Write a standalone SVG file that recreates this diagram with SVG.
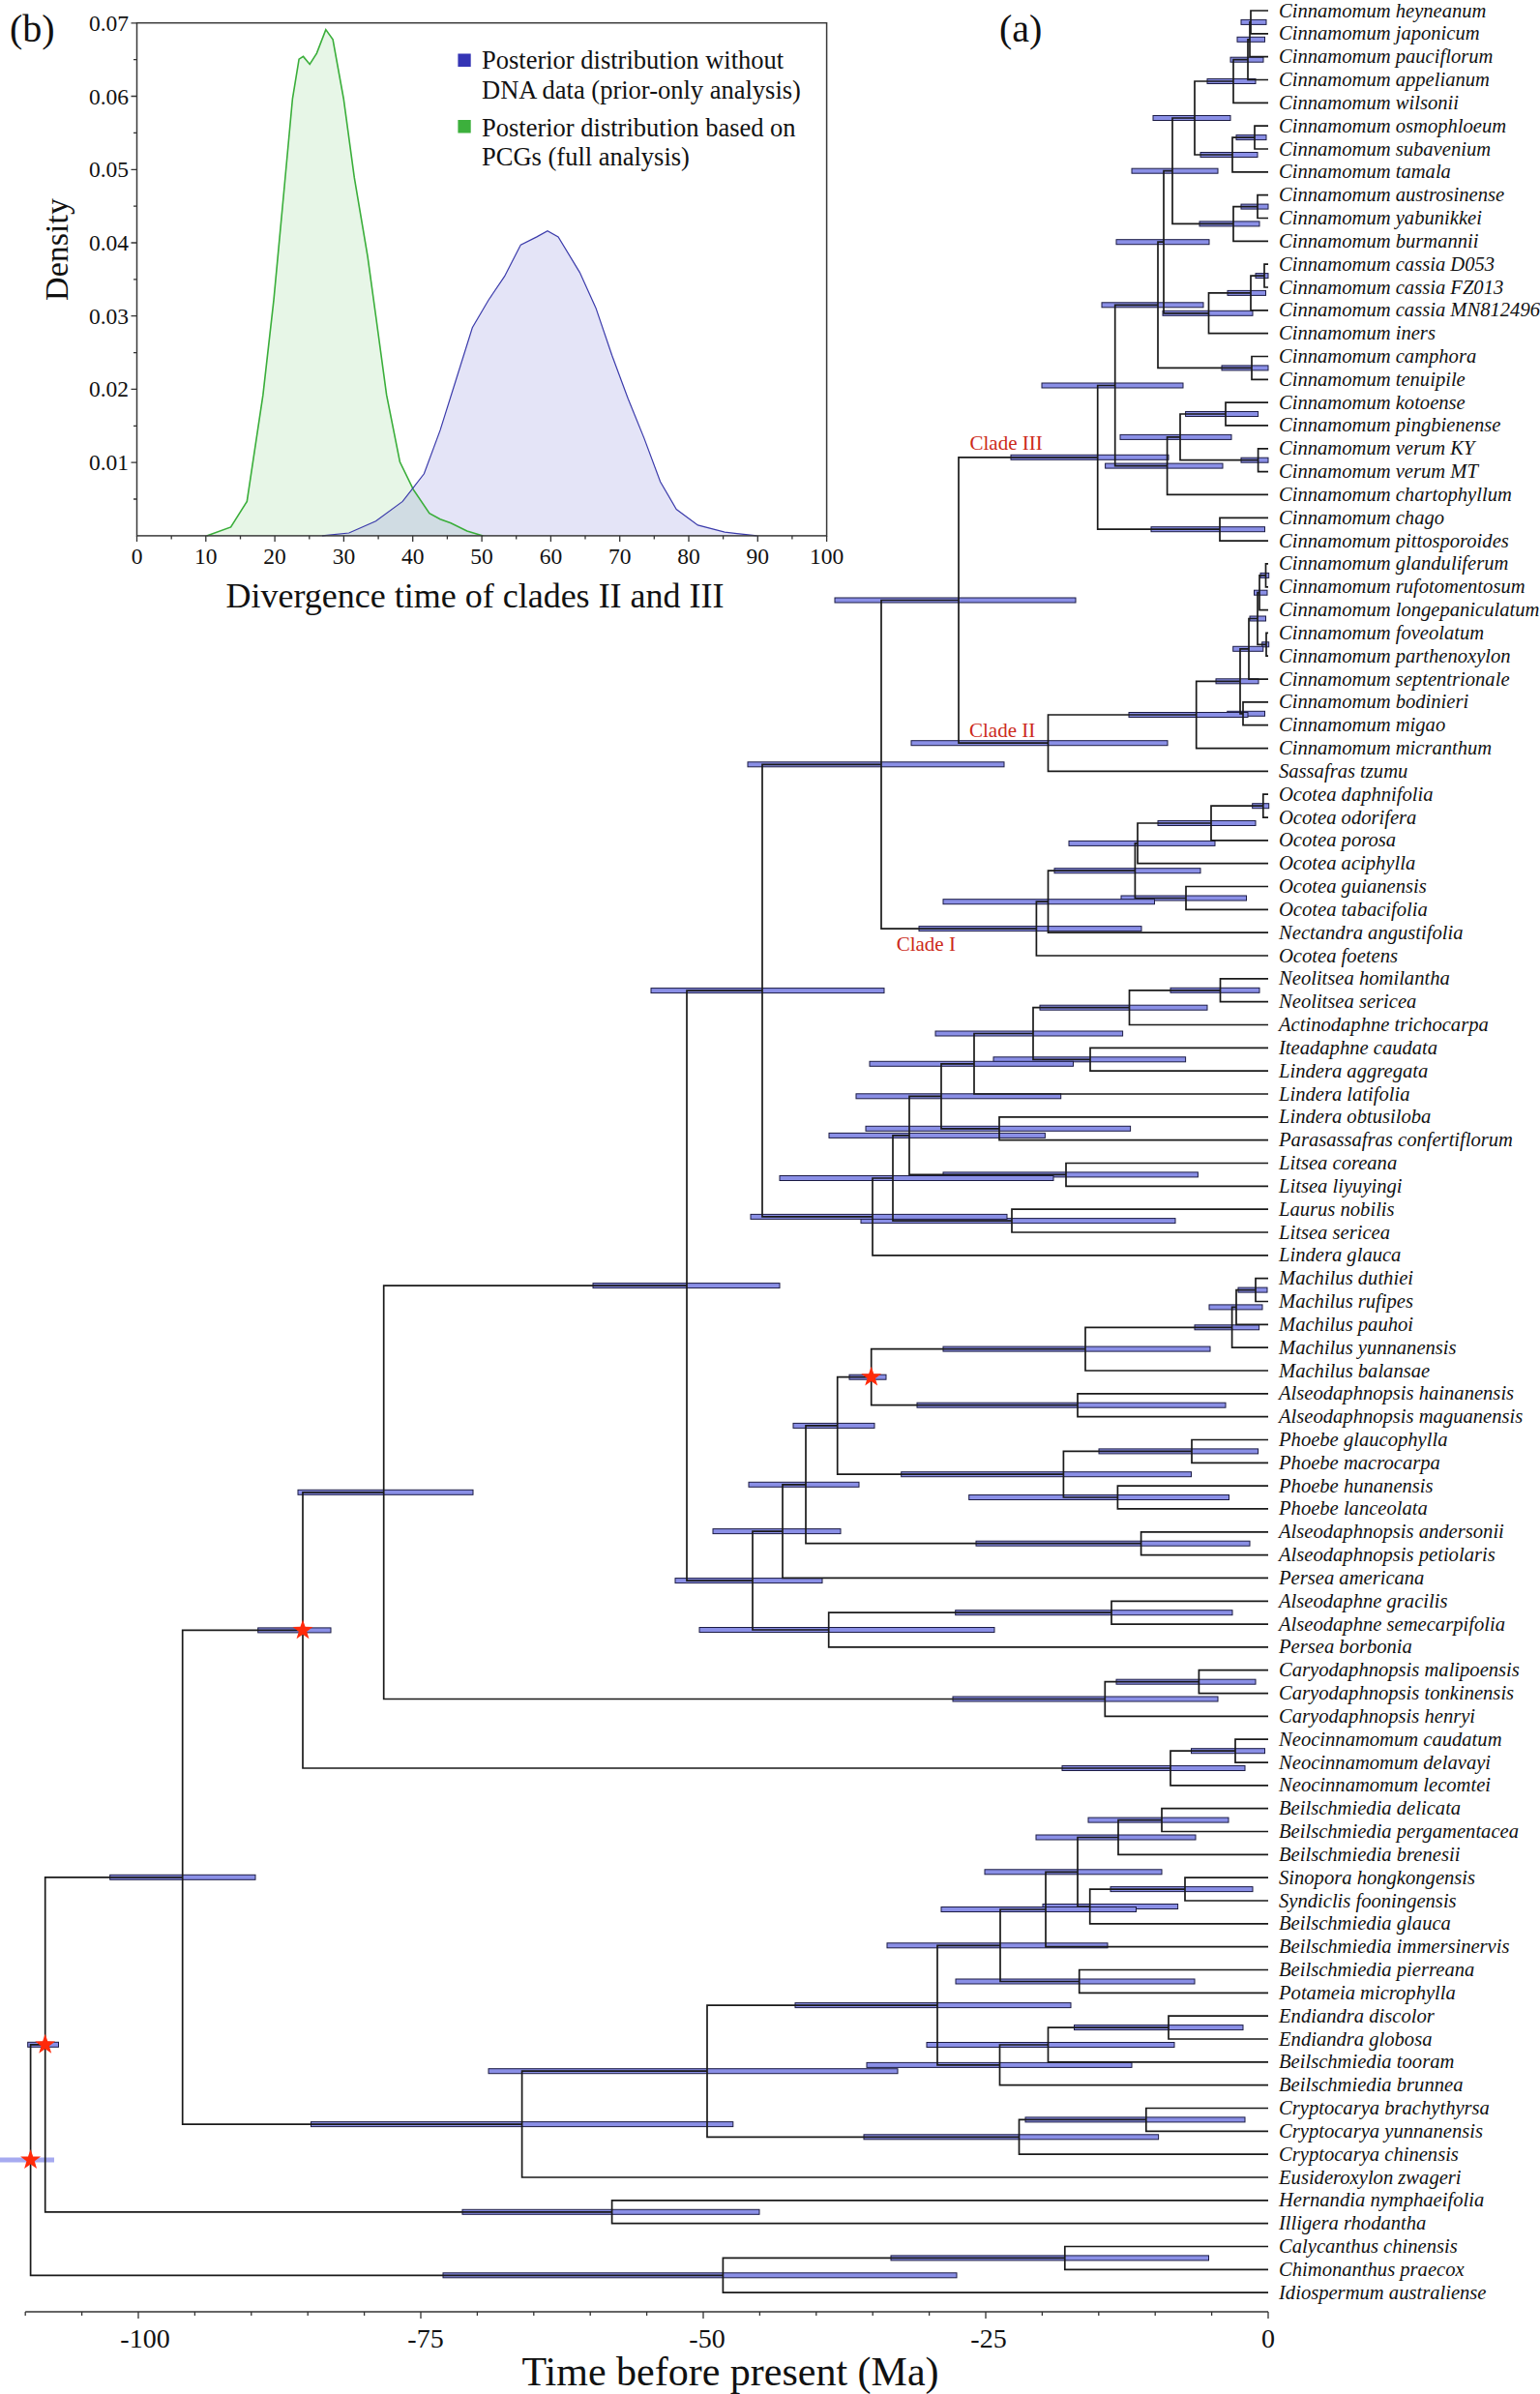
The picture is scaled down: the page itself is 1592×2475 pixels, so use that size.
<svg xmlns="http://www.w3.org/2000/svg" width="1592" height="2475" viewBox="0 0 1592 2475">
<style>
.br{fill:none;stroke:#1a1a1a;stroke-width:1.7}
.b{fill:#8a8fe6;stroke:#1c1c45;stroke-width:1}
.bl{fill:#a6aaf0;stroke:none}
.tips text{font-family:"Liberation Serif","Times New Roman",serif;font-style:italic;font-size:20.6px;fill:#111}
.cl{font-family:"Liberation Serif","Times New Roman",serif;font-size:21px;fill:#cc2a1a}
.ax{font-family:"Liberation Serif","Times New Roman",serif;fill:#111}
.tk{fill:none;stroke:#333;stroke-width:1.3}
.star{fill:#ff2a0a}
</style>
<defs>
<path id="star" d="M0,-11 L2.59,-3.56 L10.46,-3.4 L4.18,1.36 L6.47,8.9 L0,4.4 L-6.47,8.9 L-4.18,1.36 L-10.46,-3.4 L-2.59,-3.56 Z"/>
</defs>
<rect width="1592" height="2475" fill="#fff"/>

<g id="inset">
<path d="M213.6,553.9 L238.6,544.9 L255.3,518.4 L271.9,408.2 L283,310.2 L294.1,191.8 L302.4,102 L309.1,61.2 L313.5,58.4 L320.2,66.5 L327.4,55.1 L336.8,30.6 L344.1,40.8 L355.2,102 L366.3,183.7 L380.1,265.3 L388.5,326.5 L399.6,408.2 L413.4,477.6 L427.3,506.1 L443.9,530.6 L455,536.7 L466.1,540.8 L482.8,549 L499.4,553.9 L521,553.9 Z" fill="#5cc05c" fill-opacity="0.15" stroke="none"/>
<path d="M333,553.9 L360.7,551 L388.5,538.8 L416.2,518.4 L438.4,489.8 L455,444.9 L471.7,391.8 L488.3,338.8 L505,310.2 L521.6,285.7 L538.3,253.1 L554.9,244.9 L566,238.8 L577.1,244.9 L599.3,281.6 L616,318.4 L632.6,367.3 L649.3,412.2 L665.9,453.1 L682.6,498 L699.2,526.5 L721.4,542.9 L749.2,550.2 L782.5,553.9 Z" fill="#6060d0" fill-opacity="0.17" stroke="none"/>
<path d="M213.6,553.9 L238.6,544.9 L255.3,518.4 L271.9,408.2 L283,310.2 L294.1,191.8 L302.4,102 L309.1,61.2 L313.5,58.4 L320.2,66.5 L327.4,55.1 L336.8,30.6 L344.1,40.8 L355.2,102 L366.3,183.7 L380.1,265.3 L388.5,326.5 L399.6,408.2 L413.4,477.6 L427.3,506.1 L443.9,530.6 L455,536.7 L466.1,540.8 L482.8,549 L499.4,553.9" fill="none" stroke="#3aae3a" stroke-width="1.6"/>
<path d="M333,553.9 L360.7,551 L388.5,538.8 L416.2,518.4 L438.4,489.8 L455,444.9 L471.7,391.8 L488.3,338.8 L505,310.2 L521.6,285.7 L538.3,253.1 L554.9,244.9 L566,238.8 L577.1,244.9 L599.3,281.6 L616,318.4 L632.6,367.3 L649.3,412.2 L665.9,453.1 L682.6,498 L699.2,526.5 L721.4,542.9 L749.2,550.2 L782.5,553.9" fill="none" stroke="#3b3bab" stroke-width="1.2"/>
<rect x="141.5" y="23.7" width="713.1" height="530.2" fill="none" stroke="#3a3a3a" stroke-width="1.5"/>
<path class="tk" d="M141.5 553.9v6M177.2 553.9v3.5M212.8 553.9v6M248.5 553.9v3.5M284.1 553.9v6M319.8 553.9v3.5M355.4 553.9v6M391.1 553.9v3.5M426.7 553.9v6M462.4 553.9v3.5M498.1 553.9v6M533.7 553.9v3.5M569.4 553.9v6M605 553.9v3.5M640.7 553.9v6M676.3 553.9v3.5M712 553.9v6M747.6 553.9v3.5M783.3 553.9v6M818.9 553.9v3.5M854.6 553.9v6"/>
<path class="tk" d="M141.5 516h-3.5M141.5 478.2h-6M141.5 440.3h-3.5M141.5 402.4h-6M141.5 364.6h-3.5M141.5 326.7h-6M141.5 288.8h-3.5M141.5 251h-6M141.5 213.1h-3.5M141.5 175.3h-6M141.5 137.4h-3.5M141.5 99.5h-6M141.5 61.7h-3.5M141.5 23.8h-6"/>
<g class="ax" font-size="23.5" text-anchor="middle">
<text x="141.5" y="583">0</text><text x="212.8" y="583">10</text><text x="284.1" y="583">20</text><text x="355.4" y="583">30</text><text x="426.7" y="583">40</text><text x="498.1" y="583">50</text><text x="569.4" y="583">60</text><text x="640.7" y="583">70</text><text x="712" y="583">80</text><text x="783.3" y="583">90</text><text x="854.6" y="583">100</text>
</g>
<g class="ax" font-size="23.5" text-anchor="end">
<text x="133" y="486.2">0.01</text><text x="133" y="410.4">0.02</text><text x="133" y="334.7">0.03</text><text x="133" y="259">0.04</text><text x="133" y="183.3">0.05</text><text x="133" y="107.5">0.06</text><text x="133" y="31.8">0.07</text>
</g>
<text class="ax" font-size="34" text-anchor="middle" transform="translate(70,258) rotate(-90)">Density</text>
<text class="ax" font-size="36" x="491" y="628" text-anchor="middle">Divergence time of clades II and III</text>
<rect x="473.4" y="55.5" width="13.3" height="13.5" fill="#3535b5"/>
<rect x="473.4" y="124" width="13.3" height="13.5" fill="#3cb03c"/>
<g class="ax" font-size="26.5">
<text x="498" y="71.4">Posterior distribution without</text>
<text x="498" y="102">DNA data (prior-only analysis)</text>
<text x="498" y="140.8">Posterior distribution based on</text>
<text x="498" y="170.6">PCGs (full analysis)</text>
</g>
<text class="ax" font-size="40" x="10" y="43">(b)</text>
</g>

<text class="ax" font-size="40" x="1033" y="43">(a)</text>

<g id="hpd-bars">
<rect class="b" x="1283" y="20.4" width="26" height="5"/>
<rect class="b" x="1279" y="38.3" width="28.5" height="5"/>
<rect class="b" x="1272" y="59.2" width="34" height="5"/>
<rect class="b" x="1248" y="81.5" width="50" height="5"/>
<rect class="b" x="1278" y="139.6" width="31" height="5"/>
<rect class="b" x="1241" y="157.5" width="59" height="5"/>
<rect class="b" x="1192" y="119.5" width="80" height="5"/>
<rect class="b" x="1283" y="211.1" width="28" height="5"/>
<rect class="b" x="1240" y="228.9" width="62" height="5"/>
<rect class="b" x="1170" y="174.2" width="89" height="5"/>
<rect class="b" x="1298" y="282.6" width="13" height="5"/>
<rect class="b" x="1269" y="300.4" width="39.5" height="5"/>
<rect class="b" x="1202" y="321.3" width="93" height="5"/>
<rect class="b" x="1154" y="247.7" width="96" height="5"/>
<rect class="b" x="1263" y="377.9" width="48" height="5"/>
<rect class="b" x="1139" y="312.8" width="105" height="5"/>
<rect class="b" x="1225.6" y="425.5" width="75" height="5"/>
<rect class="b" x="1283" y="473.2" width="28" height="5"/>
<rect class="b" x="1158" y="449.4" width="115" height="5"/>
<rect class="b" x="1142.6" y="479.1" width="121.4" height="5"/>
<rect class="b" x="1077" y="396" width="146" height="5"/>
<rect class="b" x="1190" y="544.7" width="117.5" height="5"/>
<rect class="b" x="1045" y="470.3" width="163" height="5"/>
<rect class="b" x="1303" y="592.4" width="8.7" height="5"/>
<rect class="b" x="1296.5" y="610.2" width="13.5" height="5"/>
<rect class="b" x="1304.7" y="663.8" width="7" height="5"/>
<rect class="b" x="1292" y="637" width="16.5" height="5"/>
<rect class="b" x="1274.7" y="668.3" width="31.1" height="5"/>
<rect class="b" x="1268.8" y="735.3" width="38.7" height="5"/>
<rect class="b" x="1257" y="701.8" width="44" height="5"/>
<rect class="b" x="1167" y="736.5" width="123" height="5"/>
<rect class="b" x="942" y="765.7" width="265" height="5"/>
<rect class="b" x="863" y="618" width="249" height="5"/>
<rect class="b" x="1294.7" y="830.7" width="17" height="5"/>
<rect class="b" x="1197" y="848.5" width="101" height="5"/>
<rect class="b" x="1105" y="869.4" width="151" height="5"/>
<rect class="b" x="1159" y="926" width="129.5" height="5"/>
<rect class="b" x="1090" y="897.7" width="151" height="5"/>
<rect class="b" x="975" y="929.7" width="218.5" height="5"/>
<rect class="b" x="950" y="957.6" width="230" height="5"/>
<rect class="b" x="773" y="787.8" width="265" height="5"/>
<rect class="b" x="1210" y="1021.3" width="92" height="5"/>
<rect class="b" x="1075" y="1039.2" width="173" height="5"/>
<rect class="b" x="1027" y="1092.8" width="198.6" height="5"/>
<rect class="b" x="967" y="1066" width="193.6" height="5"/>
<rect class="b" x="899" y="1097.3" width="210.5" height="5"/>
<rect class="b" x="895" y="1164.3" width="273.6" height="5"/>
<rect class="b" x="885" y="1130.8" width="211.7" height="5"/>
<rect class="b" x="975" y="1211.9" width="263.4" height="5"/>
<rect class="b" x="857" y="1171.4" width="223.4" height="5"/>
<rect class="b" x="890" y="1259.6" width="325" height="5"/>
<rect class="b" x="806" y="1215.5" width="283" height="5"/>
<rect class="b" x="776" y="1255.4" width="265" height="5"/>
<rect class="b" x="673" y="1021.6" width="241" height="5"/>
<rect class="b" x="1280" y="1331.1" width="30" height="5"/>
<rect class="b" x="1250" y="1348.9" width="55" height="5"/>
<rect class="b" x="1235" y="1369.8" width="66.6" height="5"/>
<rect class="b" x="975" y="1392.1" width="276" height="5"/>
<rect class="b" x="948" y="1450.2" width="319" height="5"/>
<rect class="b" x="878" y="1421.2" width="38" height="5"/>
<rect class="b" x="1136" y="1497.9" width="164.6" height="5"/>
<rect class="b" x="1001.7" y="1545.5" width="268.8" height="5"/>
<rect class="b" x="931.7" y="1521.7" width="299.8" height="5"/>
<rect class="b" x="820" y="1471.4" width="84" height="5"/>
<rect class="b" x="1009" y="1593.2" width="283" height="5"/>
<rect class="b" x="774" y="1532.3" width="114" height="5"/>
<rect class="b" x="737" y="1580.6" width="132" height="5"/>
<rect class="b" x="987.7" y="1664.7" width="286.3" height="5"/>
<rect class="b" x="723" y="1682.5" width="305" height="5"/>
<rect class="b" x="698" y="1631.6" width="152" height="5"/>
<rect class="b" x="613" y="1326.6" width="193" height="5"/>
<rect class="b" x="1154" y="1736.2" width="144" height="5"/>
<rect class="b" x="985" y="1754" width="274" height="5"/>
<rect class="b" x="308" y="1540.3" width="181" height="5"/>
<rect class="b" x="1231.5" y="1807.7" width="76" height="5"/>
<rect class="b" x="1098" y="1825.5" width="189" height="5"/>
<rect class="b" x="266.7" y="1682.9" width="75.3" height="5"/>
<rect class="b" x="1125" y="1879.1" width="145" height="5"/>
<rect class="b" x="1071" y="1897" width="165" height="5"/>
<rect class="b" x="1148" y="1950.6" width="147" height="5"/>
<rect class="b" x="1078" y="1968.5" width="139.6" height="5"/>
<rect class="b" x="1018" y="1932.8" width="183" height="5"/>
<rect class="b" x="973" y="1971.5" width="201.5" height="5"/>
<rect class="b" x="988" y="2046" width="247" height="5"/>
<rect class="b" x="917" y="2008.8" width="228" height="5"/>
<rect class="b" x="1110.5" y="2093.6" width="174.5" height="5"/>
<rect class="b" x="958" y="2111.5" width="256" height="5"/>
<rect class="b" x="896" y="2132.4" width="274" height="5"/>
<rect class="b" x="822" y="2070.6" width="285" height="5"/>
<rect class="b" x="1060" y="2188.9" width="227" height="5"/>
<rect class="b" x="893" y="2206.8" width="304.6" height="5"/>
<rect class="b" x="505" y="2138.7" width="423" height="5"/>
<rect class="b" x="321.5" y="2193.6" width="436.3" height="5"/>
<rect class="b" x="113.7" y="1938.3" width="150.3" height="5"/>
<rect class="b" x="478" y="2284.3" width="307" height="5"/>
<rect class="b" x="28.7" y="2111.3" width="31.8" height="5"/>
<rect class="b" x="921" y="2331.9" width="328.5" height="5"/>
<rect class="b" x="458" y="2349.8" width="531" height="5"/>
<rect class="bl" x="0" y="2230.5" width="56" height="5"/>
</g>

<g id="connectors" class="br">
<path d="M1311 11H1293V34.8H1311"/>
<path d="M1293 22.9H1292V58.7H1311"/>
<path d="M1292 40.8H1290V82.5H1311"/>
<path d="M1290 61.7H1275V106.3H1311"/>
<path d="M1311 130.2H1297V154H1311"/>
<path d="M1297 142.1H1274V177.8H1311"/>
<path d="M1275 84H1235V160H1274"/>
<path d="M1311 201.6H1300V225.5H1311"/>
<path d="M1300 213.6H1275V249.3H1311"/>
<path d="M1235 122H1212V231.4H1275"/>
<path d="M1311 273.1H1307V297H1311"/>
<path d="M1307 285.1H1293V320.8H1311"/>
<path d="M1293 302.9H1249.5V344.6H1311"/>
<path d="M1212 176.7H1203V323.8H1249.5"/>
<path d="M1311 368.5H1294V392.3H1311"/>
<path d="M1203 250.2H1197V380.4H1294"/>
<path d="M1311 416.1H1267V439.9H1311"/>
<path d="M1311 463.8H1300.6V487.6H1311"/>
<path d="M1267 428H1220V475.7H1300.6"/>
<path d="M1220 451.9H1206.6V511.4H1311"/>
<path d="M1197 315.3H1152.7V481.6H1206.6"/>
<path d="M1311 535.3H1261V559.1H1311"/>
<path d="M1152.7 398.5H1134.7V547.2H1261"/>
<path d="M1311 582.9H1308.5V606.8H1311"/>
<path d="M1308.5 594.9H1302V630.6H1311"/>
<path d="M1311 654.4H1309V678.2H1311"/>
<path d="M1302 612.7H1300V666.3H1309"/>
<path d="M1300 639.5H1291V702.1H1311"/>
<path d="M1311 725.9H1285V749.7H1311"/>
<path d="M1291 670.8H1282V737.8H1285"/>
<path d="M1282 704.3H1236.7V773.6H1311"/>
<path d="M1236.7 739H1083.5V797.4H1311"/>
<path d="M1134.7 472.8H991V768.2H1083.5"/>
<path d="M1311 821.2H1305.8V845.1H1311"/>
<path d="M1305.8 833.2H1252V868.9H1311"/>
<path d="M1252 851H1176V892.7H1311"/>
<path d="M1311 916.5H1226V940.4H1311"/>
<path d="M1176 871.9H1173.4V928.5H1226"/>
<path d="M1173.4 900.2H1083.5V964.2H1311"/>
<path d="M1083.5 932.2H1071.4V988H1311"/>
<path d="M991 620.5H911V960.1H1071.4"/>
<path d="M1311 1011.9H1261.5V1035.7H1311"/>
<path d="M1261.5 1023.8H1167.5V1059.5H1311"/>
<path d="M1311 1083.4H1127V1107.2H1311"/>
<path d="M1167.5 1041.7H1068V1095.3H1127"/>
<path d="M1068 1068.5H1007V1131H1311"/>
<path d="M1311 1154.8H1033V1178.7H1311"/>
<path d="M1007 1099.8H973V1166.8H1033"/>
<path d="M1311 1202.5H1102V1226.3H1311"/>
<path d="M973 1133.3H940V1214.4H1102"/>
<path d="M1311 1250.2H1046V1274H1311"/>
<path d="M940 1173.9H923V1262.1H1046"/>
<path d="M923 1218H902V1297.8H1311"/>
<path d="M911 790.3H788V1257.9H902"/>
<path d="M1311 1321.6H1298V1345.5H1311"/>
<path d="M1298 1333.6H1278V1369.3H1311"/>
<path d="M1278 1351.4H1273.6V1393.1H1311"/>
<path d="M1273.6 1372.3H1122V1417H1311"/>
<path d="M1311 1440.8H1114V1464.6H1311"/>
<path d="M1122 1394.6H900.7V1452.7H1114"/>
<path d="M1311 1488.5H1232V1512.3H1311"/>
<path d="M1311 1536.1H1155.4V1559.9H1311"/>
<path d="M1232 1500.4H1099.4V1548H1155.4"/>
<path d="M900.7 1423.7H865.7V1524.2H1099.4"/>
<path d="M1311 1583.8H1179.6V1607.6H1311"/>
<path d="M865.7 1473.9H833V1595.7H1179.6"/>
<path d="M833 1534.8H809V1631.4H1311"/>
<path d="M1311 1655.3H1149V1679.1H1311"/>
<path d="M1149 1667.2H856.7V1702.9H1311"/>
<path d="M809 1583.1H778V1685H856.7"/>
<path d="M788 1024.1H710V1634.1H778"/>
<path d="M1311 1726.7H1239.4V1750.6H1311"/>
<path d="M1239.4 1738.7H1142.3V1774.4H1311"/>
<path d="M710 1329.1H396.7V1756.5H1142.3"/>
<path d="M1311 1798.2H1277V1822.1H1311"/>
<path d="M1277 1810.2H1210V1845.9H1311"/>
<path d="M396.7 1542.8H313V1828H1210"/>
<path d="M1311 1869.7H1201V1893.5H1311"/>
<path d="M1201 1881.6H1156V1917.4H1311"/>
<path d="M1311 1941.2H1225V1965H1311"/>
<path d="M1225 1953.1H1126.7V1988.9H1311"/>
<path d="M1156 1899.5H1114V1971H1126.7"/>
<path d="M1114 1935.3H1081V2012.7H1311"/>
<path d="M1311 2036.5H1115.7V2060.4H1311"/>
<path d="M1081 1974H1034V2048.5H1115.7"/>
<path d="M1311 2084.2H1208V2108H1311"/>
<path d="M1208 2096.1H1083.5V2131.8H1311"/>
<path d="M1083.5 2114H1033.5V2155.7H1311"/>
<path d="M1034 2011.3H969V2134.9H1033.5"/>
<path d="M1311 2179.5H1184.8V2203.3H1311"/>
<path d="M1184.8 2191.4H1053.5V2227.2H1311"/>
<path d="M969 2073.1H731V2209.3H1053.5"/>
<path d="M731 2141.2H539.6V2251H1311"/>
<path d="M313 1685.4H188.7V2196.1H539.6"/>
<path d="M1311 2274.8H632.6V2298.7H1311"/>
<path d="M188.7 1940.8H46.7V2286.8H632.6"/>
<path d="M1311 2322.5H1100.8V2346.3H1311"/>
<path d="M1100.8 2334.4H747.4V2370.1H1311"/>
<path d="M46.7 2113.8H31.6V2352.3H747.4"/>
</g>

<g id="calibrations">
<use href="#star" class="star" x="900.7" y="1423.7"/>
<use href="#star" class="star" x="313" y="1685.4"/>
<use href="#star" class="star" x="46.7" y="2113.8"/>
<use href="#star" class="star" x="31.6" y="2233"/>
</g>

<g id="clade-labels">
<text class="cl" x="1002.5" y="464.5">Clade III</text>
<text class="cl" x="1002" y="761.5">Clade II</text>
<text class="cl" x="926.7" y="982.5">Clade I</text>
</g>

<g id="time-axis">
<path class="tk" d="M26.2 2390H1311"/>
<path class="tk" d="M26.2 2390v4M84.6 2390v4M143 2390v7M201.4 2390v4M259.8 2390v4M318.2 2390v4M376.6 2390v4M435 2390v7M493.4 2390v4M551.8 2390v4M610.2 2390v4M668.6 2390v4M727 2390v7M785.4 2390v4M843.8 2390v4M902.2 2390v4M960.6 2390v4M1019 2390v7M1077.4 2390v4M1135.8 2390v4M1194.2 2390v4M1252.6 2390v4M1311 2390v7"/>
<g class="ax" font-size="28" text-anchor="middle">
<text x="150" y="2427">-100</text><text x="440" y="2427">-75</text><text x="731" y="2427">-50</text><text x="1022" y="2427">-25</text><text x="1311" y="2427">0</text>
</g>
<text class="ax" font-size="42" x="755" y="2466" text-anchor="middle">Time before present (Ma)</text>
</g>

<g class="tips">
<g id="tip1"><text x="1322" y="17.5">Cinnamomum heyneanum</text></g>
<g id="tip2"><text x="1322" y="41.3">Cinnamomum japonicum</text></g>
<g id="tip3"><text x="1322" y="65.2">Cinnamomum pauciflorum</text></g>
<g id="tip4"><text x="1322" y="89">Cinnamomum appelianum</text></g>
<g id="tip5"><text x="1322" y="112.8">Cinnamomum wilsonii</text></g>
<g id="tip6"><text x="1322" y="136.7">Cinnamomum osmophloeum</text></g>
<g id="tip7"><text x="1322" y="160.5">Cinnamomum subavenium</text></g>
<g id="tip8"><text x="1322" y="184.3">Cinnamomum tamala</text></g>
<g id="tip9"><text x="1322" y="208.1">Cinnamomum austrosinense</text></g>
<g id="tip10"><text x="1322" y="232">Cinnamomum yabunikkei</text></g>
<g id="tip11"><text x="1322" y="255.8">Cinnamomum burmannii</text></g>
<g id="tip12"><text x="1322" y="279.6">Cinnamomum cassia D053</text></g>
<g id="tip13"><text x="1322" y="303.5">Cinnamomum cassia FZ013</text></g>
<g id="tip14"><text x="1322" y="327.3">Cinnamomum cassia MN812496</text></g>
<g id="tip15"><text x="1322" y="351.1">Cinnamomum iners</text></g>
<g id="tip16"><text x="1322" y="375">Cinnamomum camphora</text></g>
<g id="tip17"><text x="1322" y="398.8">Cinnamomum tenuipile</text></g>
<g id="tip18"><text x="1322" y="422.6">Cinnamomum kotoense</text></g>
<g id="tip19"><text x="1322" y="446.4">Cinnamomum pingbienense</text></g>
<g id="tip20"><text x="1322" y="470.3">Cinnamomum verum KY</text></g>
<g id="tip21"><text x="1322" y="494.1">Cinnamomum verum MT</text></g>
<g id="tip22"><text x="1322" y="517.9">Cinnamomum chartophyllum</text></g>
<g id="tip23"><text x="1322" y="541.8">Cinnamomum chago</text></g>
<g id="tip24"><text x="1322" y="565.6">Cinnamomum pittosporoides</text></g>
<g id="tip25"><text x="1322" y="589.4">Cinnamomum glanduliferum</text></g>
<g id="tip26"><text x="1322" y="613.3">Cinnamomum rufotomentosum</text></g>
<g id="tip27"><text x="1322" y="637.1">Cinnamomum longepaniculatum</text></g>
<g id="tip28"><text x="1322" y="660.9">Cinnamomum foveolatum</text></g>
<g id="tip29"><text x="1322" y="684.7">Cinnamomum parthenoxylon</text></g>
<g id="tip30"><text x="1322" y="708.6">Cinnamomum septentrionale</text></g>
<g id="tip31"><text x="1322" y="732.4">Cinnamomum bodinieri</text></g>
<g id="tip32"><text x="1322" y="756.2">Cinnamomum migao</text></g>
<g id="tip33"><text x="1322" y="780.1">Cinnamomum micranthum</text></g>
<g id="tip34"><text x="1322" y="803.9">Sassafras tzumu</text></g>
<g id="tip35"><text x="1322" y="827.7">Ocotea daphnifolia</text></g>
<g id="tip36"><text x="1322" y="851.6">Ocotea odorifera</text></g>
<g id="tip37"><text x="1322" y="875.4">Ocotea porosa</text></g>
<g id="tip38"><text x="1322" y="899.2">Ocotea aciphylla</text></g>
<g id="tip39"><text x="1322" y="923">Ocotea guianensis</text></g>
<g id="tip40"><text x="1322" y="946.9">Ocotea tabacifolia</text></g>
<g id="tip41"><text x="1322" y="970.7">Nectandra angustifolia</text></g>
<g id="tip42"><text x="1322" y="994.5">Ocotea foetens</text></g>
<g id="tip43"><text x="1322" y="1018.4">Neolitsea homilantha</text></g>
<g id="tip44"><text x="1322" y="1042.2">Neolitsea sericea</text></g>
<g id="tip45"><text x="1322" y="1066">Actinodaphne trichocarpa</text></g>
<g id="tip46"><text x="1322" y="1089.9">Iteadaphne caudata</text></g>
<g id="tip47"><text x="1322" y="1113.7">Lindera aggregata</text></g>
<g id="tip48"><text x="1322" y="1137.5">Lindera latifolia</text></g>
<g id="tip49"><text x="1322" y="1161.3">Lindera obtusiloba</text></g>
<g id="tip50"><text x="1322" y="1185.2">Parasassafras confertiflorum</text></g>
<g id="tip51"><text x="1322" y="1209">Litsea coreana</text></g>
<g id="tip52"><text x="1322" y="1232.8">Litsea liyuyingi</text></g>
<g id="tip53"><text x="1322" y="1256.7">Laurus nobilis</text></g>
<g id="tip54"><text x="1322" y="1280.5">Litsea sericea</text></g>
<g id="tip55"><text x="1322" y="1304.3">Lindera glauca</text></g>
<g id="tip56"><text x="1322" y="1328.1">Machilus duthiei</text></g>
<g id="tip57"><text x="1322" y="1352">Machilus rufipes</text></g>
<g id="tip58"><text x="1322" y="1375.8">Machilus pauhoi</text></g>
<g id="tip59"><text x="1322" y="1399.6">Machilus yunnanensis</text></g>
<g id="tip60"><text x="1322" y="1423.5">Machilus balansae</text></g>
<g id="tip61"><text x="1322" y="1447.3">Alseodaphnopsis hainanensis</text></g>
<g id="tip62"><text x="1322" y="1471.1">Alseodaphnopsis maguanensis</text></g>
<g id="tip63"><text x="1322" y="1495">Phoebe glaucophylla</text></g>
<g id="tip64"><text x="1322" y="1518.8">Phoebe macrocarpa</text></g>
<g id="tip65"><text x="1322" y="1542.6">Phoebe hunanensis</text></g>
<g id="tip66"><text x="1322" y="1566.4">Phoebe lanceolata</text></g>
<g id="tip67"><text x="1322" y="1590.3">Alseodaphnopsis andersonii</text></g>
<g id="tip68"><text x="1322" y="1614.1">Alseodaphnopsis petiolaris</text></g>
<g id="tip69"><text x="1322" y="1637.9">Persea americana</text></g>
<g id="tip70"><text x="1322" y="1661.8">Alseodaphne gracilis</text></g>
<g id="tip71"><text x="1322" y="1685.6">Alseodaphne semecarpifolia</text></g>
<g id="tip72"><text x="1322" y="1709.4">Persea borbonia</text></g>
<g id="tip73"><text x="1322" y="1733.2">Caryodaphnopsis malipoensis</text></g>
<g id="tip74"><text x="1322" y="1757.1">Caryodaphnopsis tonkinensis</text></g>
<g id="tip75"><text x="1322" y="1780.9">Caryodaphnopsis henryi</text></g>
<g id="tip76"><text x="1322" y="1804.7">Neocinnamomum caudatum</text></g>
<g id="tip77"><text x="1322" y="1828.6">Neocinnamomum delavayi</text></g>
<g id="tip78"><text x="1322" y="1852.4">Neocinnamomum lecomtei</text></g>
<g id="tip79"><text x="1322" y="1876.2">Beilschmiedia delicata</text></g>
<g id="tip80"><text x="1322" y="1900">Beilschmiedia pergamentacea</text></g>
<g id="tip81"><text x="1322" y="1923.9">Beilschmiedia brenesii</text></g>
<g id="tip82"><text x="1322" y="1947.7">Sinopora hongkongensis</text></g>
<g id="tip83"><text x="1322" y="1971.5">Syndiclis fooningensis</text></g>
<g id="tip84"><text x="1322" y="1995.4">Beilschmiedia glauca</text></g>
<g id="tip85"><text x="1322" y="2019.2">Beilschmiedia immersinervis</text></g>
<g id="tip86"><text x="1322" y="2043">Beilschmiedia pierreana</text></g>
<g id="tip87"><text x="1322" y="2066.9">Potameia microphylla</text></g>
<g id="tip88"><text x="1322" y="2090.7">Endiandra discolor</text></g>
<g id="tip89"><text x="1322" y="2114.5">Endiandra globosa</text></g>
<g id="tip90"><text x="1322" y="2138.3">Beilschmiedia tooram</text></g>
<g id="tip91"><text x="1322" y="2162.2">Beilschmiedia brunnea</text></g>
<g id="tip92"><text x="1322" y="2186">Cryptocarya brachythyrsa</text></g>
<g id="tip93"><text x="1322" y="2209.8">Cryptocarya yunnanensis</text></g>
<g id="tip94"><text x="1322" y="2233.7">Cryptocarya chinensis</text></g>
<g id="tip95"><text x="1322" y="2257.5">Eusideroxylon zwageri</text></g>
<g id="tip96"><text x="1322" y="2281.3">Hernandia nymphaeifolia</text></g>
<g id="tip97"><text x="1322" y="2305.2">Illigera rhodantha</text></g>
<g id="tip98"><text x="1322" y="2329">Calycanthus chinensis</text></g>
<g id="tip99"><text x="1322" y="2352.8">Chimonanthus praecox</text></g>
<g id="tip100"><text x="1322" y="2376.6">Idiospermum australiense</text></g>
</g>
</svg>
